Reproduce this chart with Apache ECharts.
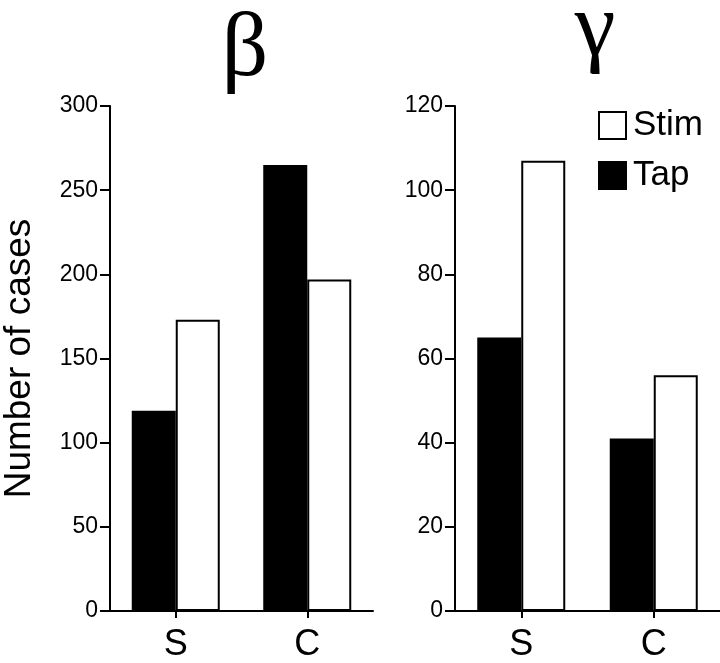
<!DOCTYPE html>
<html><head><meta charset="utf-8">
<script src="https://cdn.jsdelivr.net/npm/echarts@6/dist/echarts.min.js"></script>
<style>html,body{margin:0;padding:0;background:#fff}#c{width:720px;height:663px}</style>
</head><body><div id="c"></div>
<script>
const categories = ['S', 'C'];
const betaTap = [119, 265];
const betaStim = [173, 197];
const gammaTap = [65, 41];
const gammaStim = [107, 56];
const betaTicks = {min: 0, max: 300, interval: 50};
const gammaTicks = {min: 0, max: 120, interval: 20};
const titles = ['β', 'γ'];

const FONT = '"Liberation Sans", Arial, sans-serif';
const chart = echarts.init(document.getElementById('c'), null, {renderer: 'canvas'});
const axisLine = {show: true, lineStyle: {color: '#000', width: 2}};
function xAxis(i) {
  return {type: 'category', gridIndex: i, data: categories,
    axisLine: axisLine,
    axisTick: {show: true, alignWithLabel: true, length: 7, lineStyle: {color: '#000', width: 2}},
    axisLabel: {color: '#000', fontSize: 36, fontFamily: FONT, margin: 16}};
}
function yAxis(i, t, name) {
  return {type: 'value', gridIndex: i, min: t.min, max: t.max, interval: t.interval,
    name: name, nameLocation: 'middle', nameGap: 72, nameRotate: 90,
    nameTextStyle: {color: '#000', fontSize: 37, fontFamily: FONT},
    splitLine: {show: false},
    axisLine: axisLine,
    axisTick: {show: true, length: 10, lineStyle: {color: '#000', width: 2}},
    axisLabel: {color: '#000', fontSize: 23, fontFamily: FONT, margin: 12}};
}
const tapStyle = {color: '#000', borderColor: '#000', borderWidth: 2};
const stimStyle = {color: '#fff', borderColor: '#000', borderWidth: 2};
chart.setOption({
  animation: false,
  backgroundColor: '#fff',
  title: [
    {text: titles[0], left: 240, top: 0, textAlign: 'center',
      textStyle: {fontFamily: '"Liberation Serif", "Times New Roman", serif', fontSize: 92, fontWeight: 'normal', color: '#000'}},
    {text: titles[1], left: 590, top: -20, textAlign: 'center',
      textStyle: {fontFamily: '"Liberation Serif", "Times New Roman", serif', fontSize: 92, fontWeight: 'normal', color: '#000'}}
  ],
  legend: {data: ['Stim', 'Tap'], orient: 'vertical', left: 593, top: 103,
    itemWidth: 27, itemHeight: 27, itemGap: 15, icon: 'rect',
    textStyle: {color: '#000', fontSize: 35, fontFamily: FONT, padding: [0, 0, 0, 2]}},
  grid: [
    {left: 110, top: 106, width: 263, height: 505, containLabel: false, outerBoundsMode: 'none'},
    {left: 455, top: 106, width: 265, height: 505, containLabel: false, outerBoundsMode: 'none'}
  ],
  xAxis: [xAxis(0), xAxis(1)],
  yAxis: [yAxis(0, betaTicks, 'Number of cases'), yAxis(1, gammaTicks, '')],
  series: [
    {name: 'Tap', type: 'bar', xAxisIndex: 0, yAxisIndex: 0, data: betaTap, barWidth: 44, barGap: '0%', itemStyle: tapStyle},
    {name: 'Stim', type: 'bar', xAxisIndex: 0, yAxisIndex: 0, data: betaStim, barWidth: 44, barGap: '0%', itemStyle: stimStyle},
    {name: 'Tap', type: 'bar', xAxisIndex: 1, yAxisIndex: 1, data: gammaTap, barWidth: 44, barGap: '0%', itemStyle: tapStyle},
    {name: 'Stim', type: 'bar', xAxisIndex: 1, yAxisIndex: 1, data: gammaStim, barWidth: 44, barGap: '0%', itemStyle: stimStyle}
  ]
});
</script></body></html>
